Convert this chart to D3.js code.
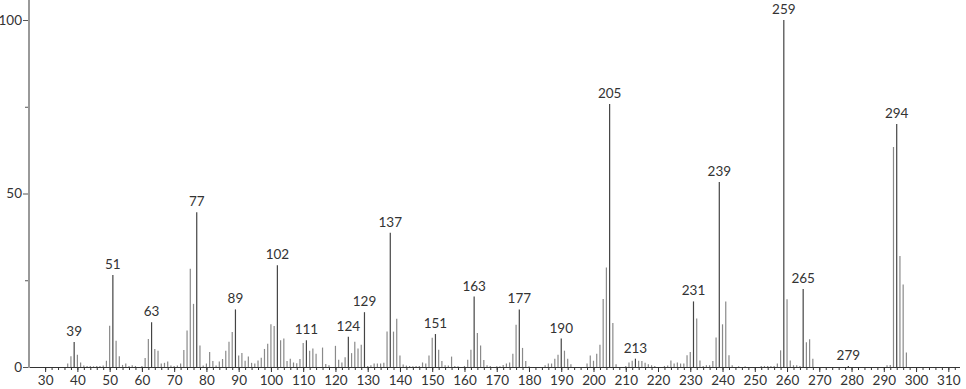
<!DOCTYPE html>
<html>
<head>
<meta charset="utf-8">
<script src="https://cdn.jsdelivr.net/npm/d3@7/dist/d3.min.js"></script>
<style>
  html, body { margin: 0; padding: 0; background: #fff; }
  svg text { font-family: Lato, "Liberation Sans", sans-serif; font-size: 13.5px; fill: #333; }
</style>
</head>
<body>
<svg id="chart" width="966" height="389"></svg>
<script>
// mass spectrum: m/z and relative intensity (%)
var massValues = [
  37, 38, 39, 40, 41, 42, 43, 44, 45, 46, 47, 48, 49, 50, 51, 52, 53, 54, 55, 56, 57, 58, 60,
  61, 62, 63, 64, 65, 66, 67, 68, 69, 70, 71, 72, 73, 74, 75, 76, 77, 78, 79, 80,
  81, 82, 83, 84, 85, 86, 87, 88, 89, 90, 91, 92, 93, 94, 95, 96, 97, 98, 99, 100,
  101, 102, 103, 104, 105, 106, 107, 108, 109, 110, 111, 112, 113, 114, 116, 117, 118, 120,
  121, 122, 123, 124, 125, 126, 127, 128, 129, 130, 131, 132, 133, 134, 135, 136, 137, 138, 139, 140,
  141, 142, 143, 144, 145, 146, 147, 148, 149, 150, 151, 152, 153, 154, 155, 156, 157, 158, 160,
  161, 162, 163, 164, 165, 166, 167, 168, 170, 171, 172, 173, 174, 175, 176, 177, 178, 179, 180,
  185, 186, 187, 188, 189, 190, 191, 192, 193, 198, 199, 200,
  201, 202, 203, 204, 205, 206, 207, 210, 211, 212, 213, 214, 215, 216, 217, 218, 219,
  222, 223, 224, 225, 226, 227, 228, 229, 230, 231, 232, 233, 234, 235, 236, 237, 238, 239, 240,
  241, 242, 243, 245, 247, 252, 253, 254, 255, 256, 257, 258, 259, 260,
  261, 262, 263, 264, 265, 266, 267, 268, 279, 291, 292, 293, 294, 295, 296, 297
];
var intensities = [
  1.0, 3.1, 7.2, 3.5, 1.3, 0.4, 0.3, 0.3, 0.2, 0.3, 0.3, 0.4, 1.8, 11.9, 26.5, 7.6, 3.1, 0.6, 1.0, 0.3, 0.5, 0.3, 0.3,
  2.6, 8.1, 12.9, 5.2, 4.7, 1.0, 1.2, 1.6, 0.4, 0.3, 0.4, 1.0, 4.9, 10.5, 28.3, 18.2, 44.6, 6.2, 0.4, 1.0,
  4.3, 1.7, 0.4, 1.6, 2.3, 4.7, 7.3, 10.1, 16.6, 3.3, 4.0, 1.8, 3.0, 1.2, 1.0, 1.9, 2.7, 5.2, 6.7, 12.3,
  11.8, 29.3, 7.7, 8.2, 1.7, 2.4, 1.3, 1.1, 2.3, 6.9, 7.7, 4.7, 5.3, 3.8, 5.6, 0.9, 0.5, 6.1,
  2.1, 1.3, 2.8, 8.7, 4.0, 7.3, 5.3, 6.4, 15.8, 0.3, 0.5, 1.0, 1.0, 1.0, 1.2, 10.2, 38.7, 10.2, 13.9, 3.3,
  0.7, 0.4, 0.3, 0.2, 0.3, 0.3, 1.3, 1.0, 3.3, 8.4, 9.5, 5.0, 1.7, 0.5, 0.4, 3.0, 0.3, 0.2, 0.3,
  2.1, 5.0, 20.3, 9.8, 6.2, 2.0, 0.5, 0.3, 0.2, 0.2, 0.6, 1.0, 1.3, 3.8, 12.2, 16.6, 5.5, 1.7, 0.2,
  0.5, 1.0, 1.0, 2.4, 3.5, 8.2, 4.7, 2.4, 0.8, 1.0, 3.3, 1.8,
  3.8, 6.4, 19.6, 28.7, 75.8, 12.7, 0.8, 0.3, 1.3, 1.8, 2.4, 1.8, 1.7, 1.2, 0.8, 0.5, 0.3,
  0.3, 0.4, 1.9, 1.0, 1.3, 1.0, 1.0, 3.4, 4.3, 18.9, 14.0, 1.9, 0.3, 0.5, 0.5, 1.7, 8.5, 53.3, 12.3,
  18.9, 3.4, 0.5, 0.2, 0.2, 0.3, 0.3, 0.3, 0.3, 0.3, 1.0, 4.8, 100, 19.5,
  1.9, 0.5, 0.5, 0.3, 22.5, 7.1, 8.0, 2.4, 0.3, 0.5, 0.6, 63.4, 70.0, 32.0, 23.8, 4.2
];
var labeledPeaks = [39, 51, 63, 77, 89, 102, 111, 124, 129, 137, 151, 163, 177, 190, 205, 213, 231, 239, 259, 265, 279, 294];
var xMajorTicks = d3.range(30, 311, 10);
var xMinorTicks = d3.range(30, 313, 2);
var yMajorTicks = [0, 50, 100];
var yMinorTicks = [25, 75];

var svg = d3.select("#chart");
var plotLeft = 29, plotRight = 958, plotBase = 367, plotTop = 20;

var x = d3.scaleLinear().domain([25, 313]).range([plotLeft, plotRight]);
var y = d3.scaleLinear().domain([0, 100]).range([plotBase, plotTop]);

var peaks = massValues.map(function(m, i) {
  return { mz: m, value: intensities[i], labeled: labeledPeaks.indexOf(m) >= 0 };
});

// x axis: minor ticks, then major ticks with labels
var xMinor = svg.append("g")
  .attr("transform", "translate(0," + plotBase + ")")
  .call(d3.axisBottom(x).tickValues(xMinorTicks).tickSize(3).tickFormat(""));
xMinor.select(".domain").remove();
xMinor.selectAll("line").attr("stroke", "#333");

var xMajor = svg.append("g")
  .attr("transform", "translate(0," + plotBase + ")")
  .call(d3.axisBottom(x).tickValues(xMajorTicks).tickSize(5).tickPadding(3).tickFormat(d3.format("d")));
xMajor.select(".domain").remove();
xMajor.selectAll("line").attr("stroke", "#333");
xMajor.selectAll("text").attr("font-size", null).attr("font-family", null);

svg.append("line")
  .attr("x1", plotLeft).attr("x2", plotRight + 2)
  .attr("y1", plotBase + 0.5).attr("y2", plotBase + 0.5)
  .attr("stroke", "#333").attr("stroke-width", 1);

// y axis
var yMinor = svg.append("g")
  .attr("transform", "translate(" + plotLeft + ",0)")
  .call(d3.axisLeft(y).tickValues(yMinorTicks).tickSize(4).tickFormat(""));
yMinor.select(".domain").remove();
yMinor.selectAll("line").attr("stroke", "#555");

var yMajor = svg.append("g")
  .attr("transform", "translate(" + plotLeft + ",0)")
  .call(d3.axisLeft(y).tickValues(yMajorTicks).tickSize(6).tickPadding(1).tickFormat(d3.format("d")));
yMajor.select(".domain").remove();
yMajor.selectAll("line").attr("stroke", "#555");
yMajor.selectAll("text").attr("font-size", null).attr("font-family", null);

svg.append("line")
  .attr("x1", plotLeft).attr("x2", plotLeft)
  .attr("y1", 0).attr("y2", plotBase + 1)
  .attr("stroke", "#999").attr("stroke-width", 2);

// peaks
svg.selectAll("line.peak")
  .data(peaks)
  .enter()
  .append("line")
  .attr("class", "peak")
  .attr("x1", function(d) { return x(d.mz); })
  .attr("x2", function(d) { return x(d.mz); })
  .attr("y1", plotBase)
  .attr("y2", function(d) { return y(d.value); })
  .attr("stroke", function(d) { return d.labeled ? "#444" : "#8a8a8a"; })
  .attr("stroke-width", 1.2);

svg.selectAll("text.peak-label")
  .data(peaks.filter(function(d) { return d.labeled; }))
  .enter()
  .append("text")
  .attr("class", "peak-label")
  .attr("x", function(d) { return x(d.mz); })
  .attr("y", function(d) { return y(d.value) - 6; })
  .attr("text-anchor", "middle")
  .text(function(d) { return d.mz; });
</script>
</body>
</html>
